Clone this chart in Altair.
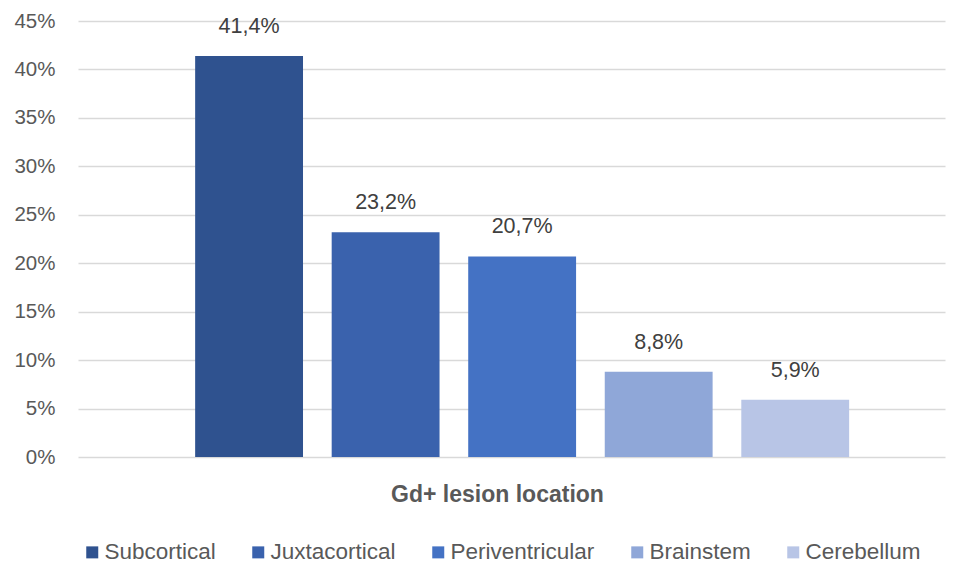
import altair as alt
import pandas as pd

categories = ["Subcortical", "Juxtacortical", "Periventricular", "Brainstem", "Cerebellum"]
values = [41.4, 23.2, 20.7, 8.8, 5.9]
colors = ["#2F528F", "#3A62AD", "#4472C4", "#8FA7D8", "#B8C5E6"]
y_ticks = [0, 5, 10, 15, 20, 25, 30, 35, 40, 45]

df = pd.DataFrame({"loc": categories, "value": values})

FONT = "Liberation Sans"

x = alt.X("loc:N", sort=categories,
          scale=alt.Scale(paddingInner=0.21, paddingOuter=0.78, align=0.55),
          axis=alt.Axis(title="Gd+ lesion location", labels=False, ticks=False, domain=False,
                        titleFontSize=23, titleFontWeight="bold", titleColor="#595959",
                        titleFont=FONT, titlePadding=26, titleX=419, titleAlign="center"))
y = alt.Y("value:Q", scale=alt.Scale(domain=[0, 45], nice=False),
          axis=alt.Axis(title=None, values=y_ticks, labelExpr="datum.value + '%'",
                        domain=False, ticks=False, labelPadding=23, labelFontSize=20.5,
                        labelColor="#595959", labelFont=FONT, gridColor="#D9D9D9",
                        gridWidth=1.5))

bars = alt.Chart(df).mark_bar().encode(
    x=x, y=y,
    color=alt.Color("loc:N", sort=categories,
                    scale=alt.Scale(domain=categories, range=colors),
                    legend=alt.Legend(title=None, orient="none", direction="horizontal",
                                      legendX=3, legendY=520, symbolType="square",
                                      symbolSize=144, labelFontSize=22.5, labelFont=FONT,
                                      labelColor="#595959", columnPadding=31,
                                      labelOffset=1, symbolStrokeWidth=0)),
)

labels = alt.Chart(df).transform_calculate(
    txt="replace(format(datum.value, '.1f'), '.', ',') + '%'"
).mark_text(dy=-18, baseline="bottom", fontSize=21.5, font=FONT, color="#404040").encode(
    x=alt.X("loc:N", sort=categories), y="value:Q", text="txt:N"
)

chart = (bars + labels).properties(
    width=867, height=436,
    autosize=alt.AutoSizeParams(type="none"),
    padding={"left": 70, "top": 13, "right": 3, "bottom": 107},
).configure_view(stroke=None)

chart.save("out.html", embed_options={"renderer": "svg", "actions": False})
